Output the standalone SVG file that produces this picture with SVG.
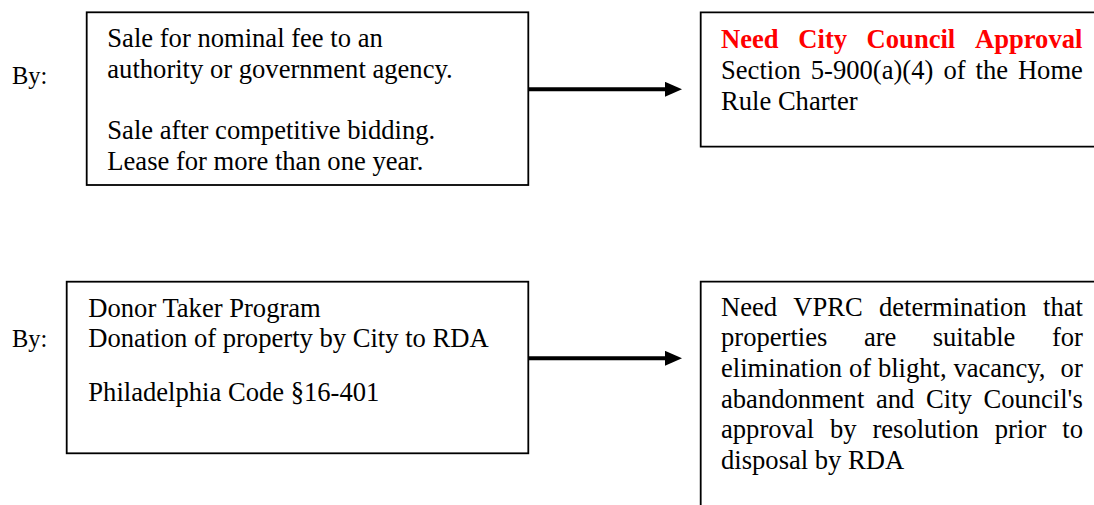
<svg xmlns="http://www.w3.org/2000/svg" width="1094" height="505" viewBox="0 0 1094 505">
<defs>
<style>
.box{fill:#fff;stroke:#000;stroke-width:1.8}
.t{font-family:"Liberation Serif","Times New Roman",serif;font-size:26.6px;fill:#000}
.by{font-family:"Liberation Serif","Times New Roman",serif;font-size:24.5px;fill:#000}
.r{font-family:"Liberation Serif","Times New Roman",serif;font-size:26.6px;font-weight:bold;fill:#ff0000}
.conn{stroke:#000;stroke-width:4;fill:none}
</style>
<marker id="ah" markerWidth="17" markerHeight="15" refX="0" refY="7.5" orient="auto" markerUnits="userSpaceOnUse">
<path d="M0,0 L17,7.5 L0,15 Z" fill="#000"/>
</marker>
</defs>
<rect width="1094" height="505" fill="#fff"/>
<g id="label-by-1"><text class="by" x="12" y="84">By:</text></g>
<g id="label-by-2"><text class="by" x="12" y="347">By:</text></g>
<g id="node-sale">
<rect class="box" x="86.7" y="12.3" width="441.6" height="172.7"/>
<text class="t" x="107.3" y="47">Sale for nominal fee to an</text>
<text class="t" x="107.3" y="77.7">authority or government agency.</text>
<text class="t" x="107.3" y="139.1">Sale after competitive bidding.</text>
<text class="t" x="107.3" y="169.8">Lease for more than one year.</text>
</g>
<g id="node-council">
<path class="box" d="M1096,12.3 H700.7 V146.7 H1096"/>
<text class="r" y="48.3"><tspan x="721">Need</tspan><tspan x="798.3">City</tspan><tspan x="866.6">Council</tspan><tspan x="975">Approval</tspan></text>
<text class="t" y="79"><tspan x="721">Section</tspan><tspan x="810.8">5-900(a)(4)</tspan><tspan x="943.4">of</tspan><tspan x="975.5">the</tspan><tspan x="1017.9">Home</tspan></text>
<text class="t" x="721" y="109.7">Rule Charter</text>
</g>
<g id="node-donor">
<rect class="box" x="66.7" y="281.7" width="461.6" height="171.6"/>
<text class="t" x="88.3" y="316.7">Donor Taker Program</text>
<text class="t" x="88.3" y="347.4">Donation of property by City to RDA</text>
<text class="t" x="88.3" y="401">Philadelphia Code §16-401</text>
</g>
<g id="node-vprc">
<path class="box" d="M1096,281.7 H700.7 V507"/>
<text class="t" y="315.5"><tspan x="721">Need</tspan><tspan x="793.3">VPRC</tspan><tspan x="878.9">determination</tspan><tspan x="1043">that</tspan></text>
<text class="t" y="346.2"><tspan x="721">properties</tspan><tspan x="863.9">are</tspan><tspan x="932.7">suitable</tspan><tspan x="1051.9">for</tspan></text>
<text class="t" y="376.9"><tspan x="721">elimination</tspan><tspan x="849">of</tspan><tspan x="877.9">blight,</tspan><tspan x="953.4">vacancy,</tspan><tspan x="1060.6">or</tspan></text>
<text class="t" y="407.6"><tspan x="721">abandonment</tspan><tspan x="876">and</tspan><tspan x="926">City</tspan><tspan x="983.4">Council's</tspan></text>
<text class="t" y="438.3"><tspan x="721">approval</tspan><tspan x="830">by</tspan><tspan x="872.4">resolution</tspan><tspan x="994.7">prior</tspan><tspan x="1062.3">to</tspan></text>
<text class="t" x="721" y="469">disposal by RDA</text>
</g>
<g id="connectors">
<line class="conn" x1="528.3" y1="89.3" x2="665" y2="89.3" marker-end="url(#ah)"/>
<line class="conn" x1="528.3" y1="358.3" x2="665" y2="358.3" marker-end="url(#ah)"/>
</g>
</svg>
